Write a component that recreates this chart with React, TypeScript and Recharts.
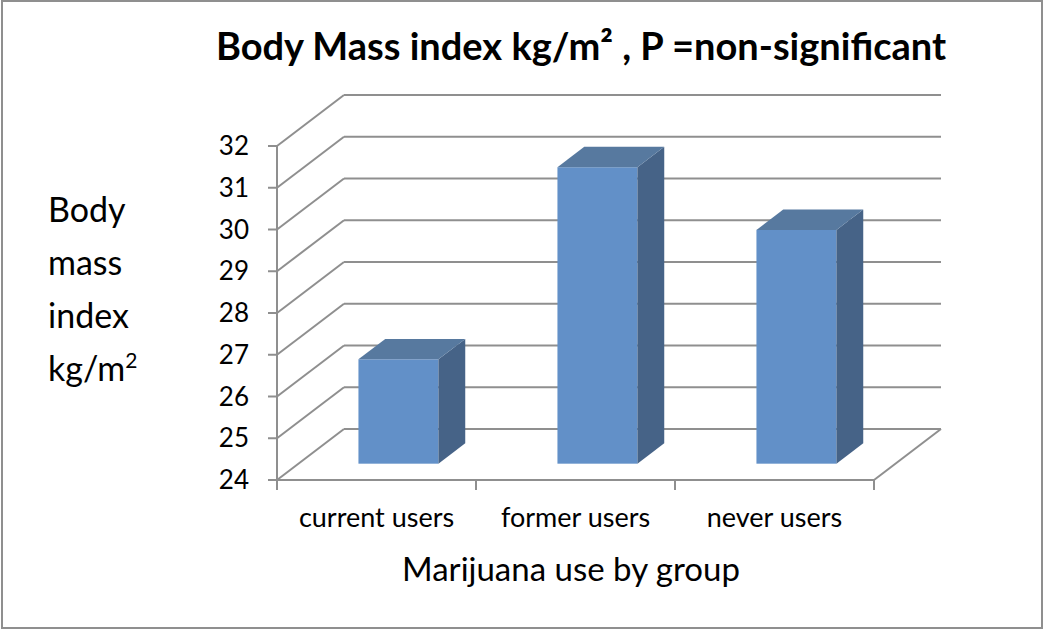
import { Bar, BarChart, CartesianGrid, XAxis, YAxis } from "recharts";

const categories = ["current users", "former users", "never users"];
const bmiValues = [26.5, 31.1, 29.6];
const yTicks = [24, 25, 26, 27, 28, 29, 30, 31, 32];

const data = categories.map((group, i) => ({ group, bmi: bmiValues[i] }));

const FONT = "Lato, 'Open Sans', sans-serif";
const GRID = "#8f8f8f";
// offset of the back wall from the front plane
const DEPTH_X = 67;
const DEPTH_Y = 51;
// bars sit between these fractions of the depth
const BAR_FRONT = 0.32;
const BAR_DEPTH = 0.4;

function WallLine(props: any) {
  const { x1, y1, x2, index, y, height } = props;
  const isFloor = typeof height === "number" ? Math.abs(y1 - (y + height)) < 1 : index === 0;
  const bx = DEPTH_X;
  const by = y1 - DEPTH_Y;
  const step = (x2 - x1) / categories.length;

  return (
    <g stroke={GRID} strokeWidth={2} fill="none">
      <line x1={x1} y1={y1} x2={x1 + bx} y2={by} />
      <line x1={x1 + bx} y1={by} x2={x2 + bx} y2={by} />
      {isFloor && (
        <>
          <line x1={x2} y1={y1} x2={x2 + bx} y2={by} />
          {Array.from({ length: categories.length + 1 }, (_, i) => (
            <line key={i} x1={x1 + i * step} y1={y1} x2={x1 + i * step} y2={y1 + 10} />
          ))}
        </>
      )}
    </g>
  );
}

function Box3D(props: any) {
  const { x, y, width, height } = props;
  if (height <= 0) return null;
  const fx = x + DEPTH_X * BAR_FRONT;
  const fy = y - DEPTH_Y * BAR_FRONT;
  const dx = DEPTH_X * BAR_DEPTH;
  const dy = DEPTH_Y * BAR_DEPTH;
  const r = fx + width;
  const b = fy + height;

  return (
    <g>
      <rect x={fx} y={fy} width={width} height={height} fill="#6290c8" />
      <polygon points={`${r},${fy} ${r + dx},${fy - dy} ${r + dx},${b - dy} ${r},${b}`} fill="#466387" />
      <polygon points={`${fx},${fy} ${fx + dx},${fy - dy} ${r + dx},${fy - dy} ${r},${fy}`} fill="#57799f" />
    </g>
  );
}

export default function App() {
  return (
    <div style={{ position: "absolute", left: 0, top: 0, width: 1050, height: 630, background: "#fff", fontFamily: FONT }}>
      <div style={{ position: "absolute", left: 1, top: 0, width: 1038, height: 625, border: `2px solid ${GRID}` }} />
      <div
        style={{
          position: "absolute",
          left: 181,
          top: 23,
          width: 800,
          textAlign: "center",
          fontSize: 38,
          lineHeight: 1.2,
          fontWeight: 700,
          color: "#000",
        }}
      >
        Body Mass index kg/m² , P =non-significant
      </div>
      <div style={{ position: "absolute", left: 48, top: 182, fontSize: 34, lineHeight: "53px", color: "#000" }}>
        <div>Body</div>
        <div>mass</div>
        <div>index</div>
        <div>
          kg/m<sup style={{ fontSize: 21, verticalAlign: "top", lineHeight: "38px" }}>2</sup>
        </div>
      </div>
      <div
        style={{
          position: "absolute",
          left: 371,
          top: 549,
          width: 400,
          textAlign: "center",
          fontSize: 33,
          lineHeight: 1.2,
          color: "#000",
        }}
      >
        Marijuana use by group
      </div>
      <BarChart
        width={1050}
        height={630}
        data={data}
        barSize={80}
        margin={{ top: 146, right: 176, bottom: 90, left: 197 }}
        style={{ position: "absolute", left: 0, top: 0 }}
      >
        <CartesianGrid vertical={false} horizontal={WallLine} />
        <XAxis
          dataKey="group"
          height={60}
          axisLine={{ stroke: GRID, strokeWidth: 2 }}
          tickLine={false}
          tickSize={10}
          tickMargin={18}
          tick={{ fill: "#000", fontSize: 27, fontFamily: FONT }}
        />
        <YAxis
          width={80}
          domain={[24, 32]}
          ticks={yTicks}
          allowDataOverflow
          axisLine={{ stroke: GRID, strokeWidth: 2 }}
          tickLine={{ stroke: GRID, strokeWidth: 2 }}
          tickSize={9}
          tickMargin={19}
          tick={{ fill: "#000", fontSize: 26, fontFamily: FONT }}
        />
        <Bar dataKey="bmi" shape={Box3D} isAnimationActive={false} />
      </BarChart>
    </div>
  );
}
